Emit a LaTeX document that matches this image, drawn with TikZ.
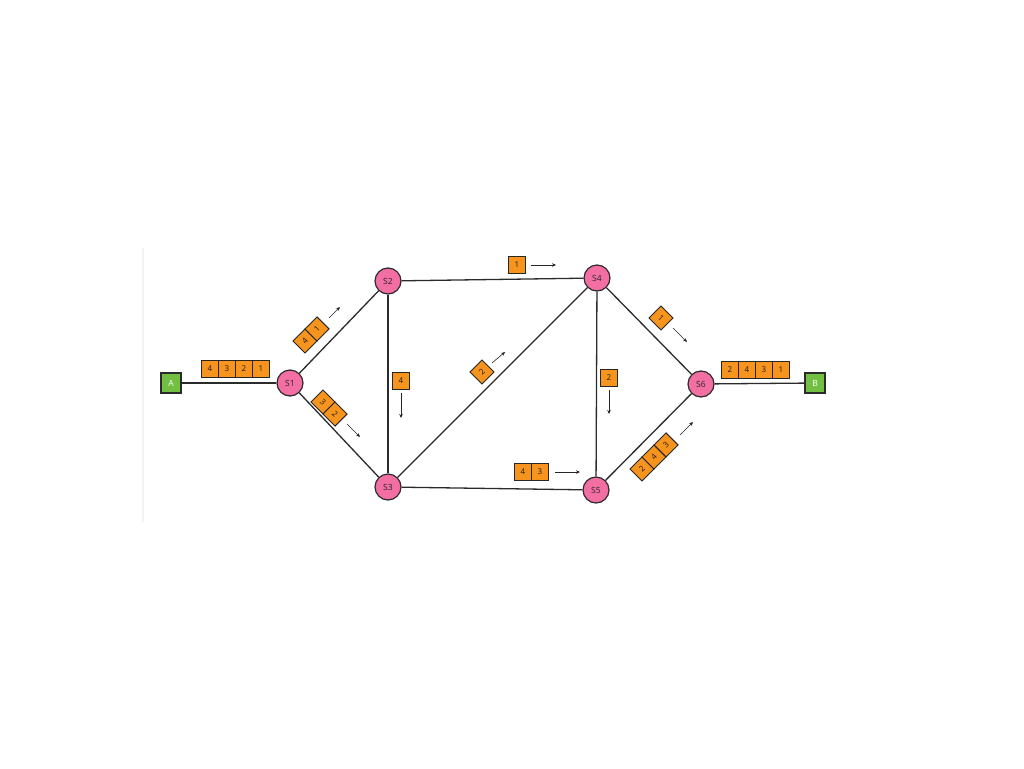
\documentclass[tikz,border=0pt]{standalone}
\usepackage{fontspec}
\setmainfont{Open Sans}
\usetikzlibrary{arrows.meta}
\definecolor{swpink}{HTML}{F36FA3}
\definecolor{pktorange}{HTML}{F7941D}
\definecolor{endgreen}{HTML}{72BF44}
\definecolor{edgecol}{HTML}{2B2B2B}
\tikzset{
  switch/.style={circle,draw=edgecol,line width=1.2pt,fill=swpink,minimum size=26pt,inner sep=0pt,font=\fontsize{8.5}{9}\selectfont,text=black!85},
  host/.style={rectangle,draw=edgecol,line width=1.2pt,fill=endgreen,minimum size=20pt,inner sep=0pt,font=\fontsize{8.5}{9}\selectfont,text=white},
  pkt/.style={rectangle,draw=black!85,line width=1pt,fill=pktorange,minimum size=17pt,inner sep=0pt,font=\fontsize{8}{8}\selectfont,text=black!90},
  link/.style={draw=edgecol,line width=1.3pt},
  flow/.style={draw=black!85,line width=0.6pt,-{Stealth[length=4pt,width=3.5pt]}}
}
\begin{document}
\begin{tikzpicture}[x=1pt,y=-1pt]
\useasboundingbox (0,0) rectangle (1024,768);
\fill[white] (0,0) rectangle (1024,768);
% faint border line
\draw[black!5,line width=1.5pt] (143,248) -- (143,522);

% hosts and switches
\node[host] (A) at (171,383) {A};
\node[host] (B) at (815,383) {B};
\node[switch] (S1) at (290,383) {S1};
\node[switch] (S2) at (388,281) {S2};
\node[switch] (S3) at (388,487) {S3};
\node[switch] (S4) at (597,278) {S4};
\node[switch] (S5) at (596,490) {S5};
\node[switch] (S6) at (701,384) {S6};

% links
\draw[link] (A) -- (S1);
\draw[link] (S1) -- (S2);
\draw[link] (S1) -- (S3);
\draw[link] (S2) -- (S4);
\draw[link] (S2) -- (S3);
\draw[link] (S3) -- (S4);
\draw[link] (S3) -- (S5);
\draw[link] (S4) -- (S5);
\draw[link] (S4) -- (S6);
\draw[link] (S5) -- (S6);
\draw[link] (S6) -- (B);

% packets A-S1
\node[pkt] (pa4) at (210,369) {4};
\node[pkt] (pa3) at (227,369) {3};
\node[pkt] (pa2) at (244,369) {2};
\node[pkt] (pa1) at (261,369) {1};

% packets S6-B
\node[pkt] (pb2) at (730,370) {2};
\node[pkt] (pb4) at (747,370) {4};
\node[pkt] (pb3) at (764,370) {3};
\node[pkt] (pb1) at (781,370) {1};

% S1-S2
\begin{scope}[shift={(305,341)},rotate=45,transform shape]
\node[pkt] (p124) at (0,0) {4};
\node[pkt] (p121) at (17,0) {1};
\end{scope}
\coordinate (f12a) at (329,318); \coordinate (f12b) at (340,307);
\draw[flow] (f12a) -- (f12b);

% S1-S3
\begin{scope}[shift={(323,402)},rotate=-45,transform shape]
\node[pkt] (p133) at (0,0) {3};
\node[pkt] (p132) at (17,0) {2};
\end{scope}
\coordinate (f13a) at (347,424); \coordinate (f13b) at (360,437);
\draw[flow] (f13a) -- (f13b);

% S2-S3
\node[pkt] (p234) at (401,381) {4};
\coordinate (f23a) at (401,393); \coordinate (f23b) at (401,418);
\draw[flow] (f23a) -- (f23b);

% S2-S4
\node[pkt] (p241) at (517,265) {1};
\coordinate (f24a) at (531,265); \coordinate (f24b) at (556,265);
\draw[flow] (f24a) -- (f24b);

% S3-S4
\node[pkt,rotate=45] (p342) at (482,372) {2};
\coordinate (f34a) at (492,363); \coordinate (f34b) at (505,352);
\draw[flow] (f34a) -- (f34b);

% S3-S5
\node[pkt] (p354) at (523,472) {4};
\node[pkt] (p353) at (540,472) {3};
\coordinate (f35a) at (555,472); \coordinate (f35b) at (580,472);
\draw[flow] (f35a) -- (f35b);

% S4-S5
\node[pkt] (p452) at (609,378) {2};
\coordinate (f45a) at (609,390); \coordinate (f45b) at (609,414);
\draw[flow] (f45a) -- (f45b);

% S4-S6
\node[pkt,rotate=-45] (p461) at (661,318) {1};
\coordinate (f46a) at (673,328); \coordinate (f46b) at (687,342);
\draw[flow] (f46a) -- (f46b);

% S5-S6
\begin{scope}[shift={(642,469)},rotate=45,transform shape]
\node[pkt] (p562) at (0,0) {2};
\node[pkt] (p564) at (17,0) {4};
\node[pkt] (p563) at (34,0) {3};
\end{scope}
\coordinate (f56a) at (680,435); \coordinate (f56b) at (693,422);
\draw[flow] (f56a) -- (f56b);
\end{tikzpicture}
\end{document}
